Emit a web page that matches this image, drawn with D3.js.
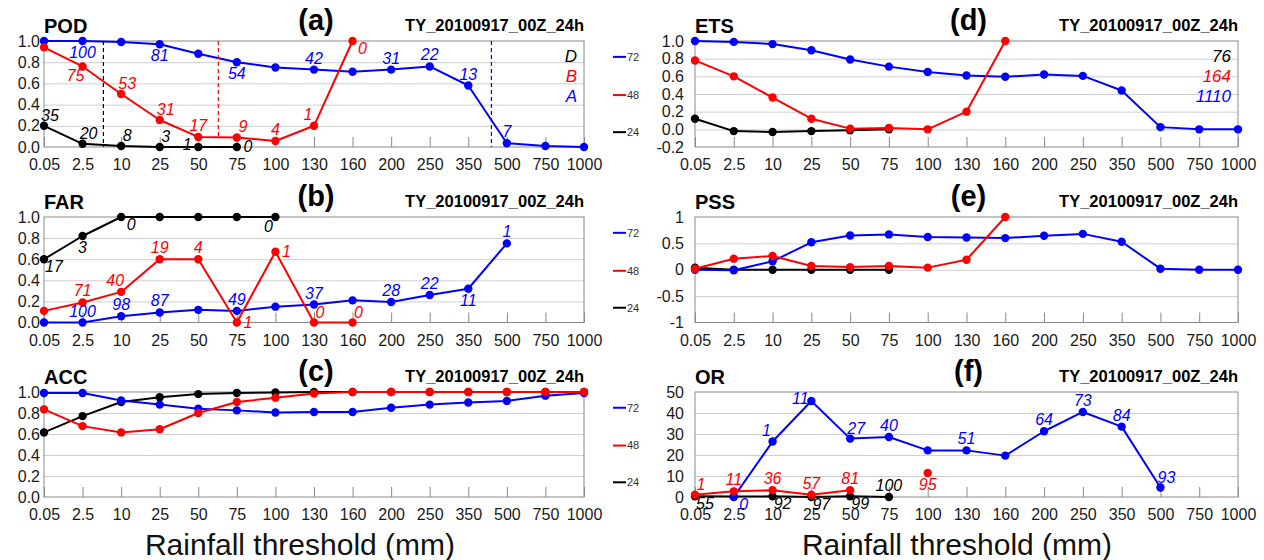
<!DOCTYPE html>
<html>
<head>
<meta charset="utf-8">
<script src="https://cdn.jsdelivr.net/npm/d3@7"></script>
<style>
  body { margin: 0; background: #fff; }
  svg text { font-family: "Liberation Sans", Arial, Helvetica, sans-serif; }
</style>
</head>
<body>
<svg id="chart" width="1264" height="560"></svg>
<script>
// rainfall thresholds (mm), evenly spaced categories
const thresholds = ['0.05', '2.5', '10', '25', '50', '75', '100', '130', '160', '200', '250', '350', '500', '750', '1000'];
const leadHours = ['24', '72', '48'];

// y tick values
const unitTicks = [0, 0.2, 0.4, 0.6, 0.8, 1.0];
const etsTicks = [-0.2, 0, 0.2, 0.4, 0.6, 0.8, 1.0];
const pssTicks = [-1, -0.5, 0, 0.5, 1];
const orTicks = [0, 10, 20, 30, 40, 50];

// (a) POD
const pod72 = [1.0, 1.0, 0.99, 0.97, 0.88, 0.80, 0.75, 0.73, 0.71, 0.73, 0.76, 0.58, 0.035, 0.01, 0.0];
const pod48 = [0.94, 0.76, 0.50, 0.255, 0.095, 0.09, 0.057, 0.20, 1.0];
const pod24 = [0.20, 0.03, 0.01, 0.0, 0.0, 0.0];
const pod72Lab = [null, '100', null, '81', null, '54', null, '42', null, '31', '22', '13', '7'];
const pod48Lab = [null, '75', '53', '31', '17', '9', '4', '1', '0'];
const pod24Lab = ['35', '20', '8', '3', '1', '0'];
const podCounts = ['D', 'B', 'A'];
const podCutIdx = [1.54, 11.6, 4.52];
const podCutLow = [0, 0, 0.082];

// (b) FAR
const far72 = [0.0, 0.0, 0.06, 0.095, 0.12, 0.11, 0.15, 0.17, 0.21, 0.195, 0.26, 0.32, 0.75];
const far48 = [0.11, 0.19, 0.29, 0.60, 0.60, 0.0, 0.67, 0.0, 0.0];
const far24 = [0.60, 0.82, 1.0, 1.0, 1.0, 1.0, 1.0];
const far72Lab = [null, '100', '98', '87', null, '49', null, '37', null, '28', '22', '11', '1'];
const far48Lab = [null, '71', '40', '19', '4', '1', '1', '0', '0'];
const far24Lab = ['17', '3', '0', null, null, null, '0'];

// (c) ACC
const acc72 = [0.99, 0.99, 0.92, 0.88, 0.84, 0.825, 0.805, 0.81, 0.81, 0.85, 0.88, 0.90, 0.915, 0.965, 0.99];
const acc48 = [0.835, 0.675, 0.615, 0.645, 0.80, 0.905, 0.945, 0.985, 1.0, 1.0, 1.0, 1.0, 1.0, 1.0, 1.0];
const acc24 = [0.615, 0.77, 0.905, 0.95, 0.98, 0.99, 0.995, 1.0, 1.0, 1.0, 1.0, 1.0, 1.0, 1.0, 1.0];

// (d) ETS
const ets72 = [1.0, 0.99, 0.965, 0.895, 0.79, 0.71, 0.65, 0.61, 0.595, 0.62, 0.605, 0.44, 0.025, 0.0, 0.0];
const ets48 = [0.78, 0.60, 0.36, 0.12, 0.008, 0.015, 0.0, 0.20, 1.0];
const ets24 = [0.12, -0.02, -0.03, -0.02, -0.01, 0.0];
const etsCounts = ['76', '164', '1110'];

// (e) PSS
const pss72 = [0.0, -0.01, 0.16, 0.52, 0.65, 0.67, 0.62, 0.61, 0.60, 0.645, 0.68, 0.53, 0.02, 0.0, 0.0];
const pss48 = [0.02, 0.21, 0.26, 0.07, 0.05, 0.07, 0.04, 0.19, 1.0];
const pss24 = [0.04, 0.0, 0.0, 0.0, 0.0, 0.0];

// (f) OR
const or72 = [null, 0, 26.4, 45.7, 27.8, 28.6, 22.2, 22.2, 19.7, 31.3, 40.5, 33.5, 4.5];
const or48 = [1.1, 2.7, 3.2, 1.1, 3.2, null, 11.4];
const or24 = [0.3, 0.2, 0.3, 0.0, 0.3, 0.0];
const or72Lab = [null, '0', '1', '11', '27', '40', null, '51', null, '64', '73', '84', '93'];
const or48Lab = ['1', '11', '36', '57', '81', null, '95'];
const or24Lab = ['55', null, '92', '97', '99', '100'];

// label placement codes (a above, b below, r right, l left)
const pod72Pos = [null, 'b', null, 'b', null, 'b', null, 'a', null, 'a', 'a', 'a', 'a'];
const pod48Pos = [null, 'bl', 'ar', 'ar', 'a', 'ar', 'a', 'al', 'br'];
const pod24Pos = ['ar', 'ar', 'ar', 'ar', 'l', 'r'];
const far72Pos = [null, 'a', 'a', 'a', null, 'a', null, 'a', null, 'a', 'a', 'b', 'a'];
const far48Pos = [null, 'a', 'al', 'a', 'a', 'r', 'r', 'ar', 'ar'];
const far24Pos = ['br', 'b', 'br', null, null, null, 'bl'];
const or72Pos = [null, 'br', 'al', 'l', 'ar', 'a', null, 'a', null, 'a', 'a', 'a', 'ar'];
const or48Pos = ['ar', 'a', 'a', 'a', 'a', null, 'b'];
const or24Pos = ['br', null, 'br', 'br', 'br', 'a'];

const offsets = {
    a: [0, -6], b: [0, 17], ar: [6, -5], al: [-6, -6],
    br: [10, 13], bl: [-7, 15], r: [11, 5], l: [-11, 3]
};
const colors = ['#000000', '#0000ff', '#ff0000'];

const fmt1 = v => v.toFixed(1);
const panels = [
    { letter: '(a)', title: 'POD', col: 0, row: 0, domain: [0, 1], ticks: unitTicks, fmt: fmt1,
      series: [pod24, pod72, pod48], labels: [pod24Lab, pod72Lab, pod48Lab], places: [pod24Pos, pod72Pos, pod48Pos] },
    { letter: '(b)', title: 'FAR', col: 0, row: 1, domain: [0, 1], ticks: unitTicks, fmt: fmt1,
      series: [far24, far72, far48], labels: [far24Lab, far72Lab, far48Lab], places: [far24Pos, far72Pos, far48Pos] },
    { letter: '(c)', title: 'ACC', col: 0, row: 2, domain: [0, 1], ticks: unitTicks, fmt: fmt1,
      series: [acc24, acc72, acc48] },
    { letter: '(d)', title: 'ETS', col: 1, row: 0, domain: [-0.2, 1], ticks: etsTicks, fmt: fmt1,
      series: [ets24, ets72, ets48] },
    { letter: '(e)', title: 'PSS', col: 1, row: 1, domain: [-1, 1], ticks: pssTicks, fmt: v => String(v),
      series: [pss24, pss72, pss48] },
    { letter: '(f)', title: 'OR', col: 1, row: 2, domain: [0, 50], ticks: orTicks, fmt: v => String(v),
      series: [or24, or72, or48], labels: [or24Lab, or72Lab, or48Lab], places: [or24Pos, or72Pos, or48Pos] }
];

// layout
const cols = [{ x0: 44, x1: 584, labelGap: 4 }, { x0: 695, x1: 1238, labelGap: 11 }];
const rows = [{ y0: 41, y1: 147 }, { y0: 217, y1: 322.5 }, { y0: 392, y1: 497 }];

const svg = d3.select('#chart');

function drawPanel(p) {
    const c = cols[p.col], r = rows[p.row];
    const g = svg.append('g');
    const x = d3.scaleLinear().domain([0, thresholds.length - 1]).range([c.x0, c.x1]);
    const y = d3.scaleLinear().domain(p.domain).range([r.y1, r.y0]);

    // horizontal grid
    g.append('g')
        .attr('transform', `translate(${c.x0},0)`)
        .call(d3.axisLeft(y).tickValues(p.ticks.slice(1, -1)).tickSize(-(c.x1 - c.x0)).tickFormat(''))
        .call(a => a.select('.domain').remove())
        .selectAll('line').attr('stroke', '#cfcfcf').attr('stroke-width', 1);

    // frame
    g.append('rect')
        .attr('x', c.x0).attr('y', r.y0)
        .attr('width', c.x1 - c.x0).attr('height', r.y1 - r.y0)
        .attr('fill', 'none').attr('stroke', '#8a8a8a').attr('stroke-width', 1);

    // x axis, ticks pointing inward
    const xa = g.append('g')
        .attr('transform', `translate(0,${r.y1})`)
        .call(d3.axisBottom(x).tickValues(d3.range(thresholds.length))
            .tickSizeInner(-10).tickSizeOuter(0).tickPadding(12)
            .tickFormat(i => thresholds[i]));
    xa.select('.domain').remove();
    xa.selectAll('line').attr('stroke', '#8a8a8a');
    xa.selectAll('text').attr('font-size', 16).attr('fill', '#1a1a1a')
        .style('font-family', '"Liberation Sans", Arial, sans-serif');

    // y axis labels
    const ya = g.append('g')
        .attr('transform', `translate(${c.x0},0)`)
        .call(d3.axisLeft(y).tickValues(p.ticks).tickSize(0).tickPadding(c.labelGap).tickFormat(p.fmt));
    ya.select('.domain').remove();
    ya.selectAll('text').attr('font-size', 16).attr('fill', '#1a1a1a')
        .style('font-family', '"Liberation Sans", Arial, sans-serif');

    // titles
    g.append('text').attr('x', c.x0).attr('y', r.y0 - 8)
        .attr('font-size', 20).attr('font-weight', 'bold').text(p.title);
    g.append('text').attr('x', (c.x0 + c.x1) / 2 + 2).attr('y', r.y0 - 11)
        .attr('text-anchor', 'middle').attr('font-size', 29).attr('font-weight', 'bold').text(p.letter);
    g.append('text').attr('x', c.x1).attr('y', r.y0 - 10)
        .attr('text-anchor', 'end').attr('font-size', 16.5).attr('font-weight', 'bold')
        .text('TY_20100917_00Z_24h');

    const line = d3.line()
        .defined(d => d.v != null)
        .x(d => x(d.i))
        .y(d => y(d.v));

    p.series.forEach((vals, s) => {
        const pts = vals.map((v, i) => ({ i, v }));
        g.append('path')
            .datum(pts)
            .attr('d', line)
            .attr('fill', 'none')
            .attr('stroke', colors[s])
            .attr('stroke-width', 2)
            .attr('stroke-linejoin', 'round');
        g.append('g')
            .selectAll('circle')
            .data(pts.filter(d => d.v != null))
            .join('circle')
            .attr('cx', d => x(d.i))
            .attr('cy', d => y(d.v))
            .attr('r', 4.2)
            .attr('fill', colors[s]);
    });

    // value annotations
    if (p.labels) {
        p.labels.forEach((labs, s) => {
            const items = labs.map((t, i) => ({ t, i, v: p.series[s][i], pos: p.places[s][i] }))
                .filter(d => d.t != null);
            g.append('g')
                .selectAll('text')
                .data(items)
                .join('text')
                .attr('x', d => x(d.i) + offsets[d.pos][0])
                .attr('y', d => y(d.v) + offsets[d.pos][1])
                .attr('text-anchor', 'middle')
                .attr('font-size', 16)
                .attr('font-style', 'italic')
                .attr('fill', colors[s])
                .text(d => d.t);
        });
    }
    return { g, x, y, c, r };
}

const drawn = panels.map(drawPanel);

// dashed cut lines in (a)
const pa = drawn[0];
podCutIdx.forEach((ci, s) => {
    pa.g.append('line')
        .attr('x1', pa.x(ci)).attr('x2', pa.x(ci))
        .attr('y1', pa.y(1)).attr('y2', pa.y(podCutLow[s]))
        .attr('stroke', colors[s]).attr('stroke-width', 1.2)
        .attr('stroke-dasharray', '4,3');
});

// category counts (a) and (d)
const countOrder = [0, 2, 1];
[[drawn[0], podCounts], [drawn[3], etsCounts]].forEach(([pd, texts]) => {
    pd.g.append('g')
        .selectAll('text')
        .data(texts)
        .join('text')
        .attr('x', pd.c.x1 - 7)
        .attr('y', (d, k) => pd.r.y0 + 20.5 + k * 20.3)
        .attr('text-anchor', 'end')
        .attr('font-size', 17)
        .attr('font-style', 'italic')
        .attr('fill', (d, k) => colors[countOrder[k]])
        .text(d => d);
});

// legends between the columns
const legendOrder = [1, 2, 0];
rows.forEach(r => {
    const h = r.y1 - r.y0;
    const lg = svg.append('g');
    legendOrder.forEach((s, k) => {
        const ly = r.y0 + h * [0.15, 0.51, 0.86][k];
        lg.append('line').attr('x1', 613).attr('x2', 626).attr('y1', ly).attr('y2', ly)
            .attr('stroke', colors[s]).attr('stroke-width', 2);
        lg.append('text').attr('x', 627).attr('y', ly).attr('dy', '0.35em')
            .attr('font-size', 11).attr('fill', '#333').text(leadHours[s]);
    });
});

// axis titles
[300, 957].forEach(cx => {
    svg.append('text').attr('x', cx).attr('y', 555)
        .attr('text-anchor', 'middle').attr('font-size', 30).attr('fill', '#111')
        .text('Rainfall threshold (mm)');
});
</script>
</body>
</html>
